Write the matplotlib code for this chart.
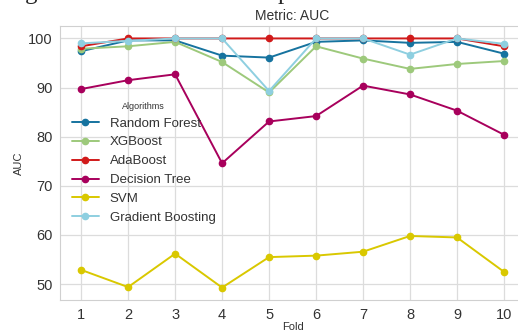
import numpy as np
import matplotlib
matplotlib.use('Agg')
import matplotlib.pyplot as plt
import seaborn as sns

folds = [1, 2, 3, 4, 5, 6, 7, 8, 9, 10]

algorithms = ['Random Forest', 'XGBoost', 'AdaBoost', 'Decision Tree', 'SVM', 'Gradient Boosting']

rf_auc = [97.4, 99.6, 99.6, 96.5, 96.1, 99.3, 99.6, 99.1, 99.3, 96.9]
xgb_auc = [97.9, 98.4, 99.3, 95.2, 89.0, 98.4, 95.9, 93.8, 94.8, 95.4]
ada_auc = [98.4, 100.0, 100.0, 100.0, 100.0, 100.0, 100.0, 100.0, 100.0, 98.4]
dt_auc = [89.7, 91.5, 92.7, 74.6, 83.1, 84.2, 90.4, 88.6, 85.3, 80.4]
svm_auc = [52.9, 49.4, 56.2, 49.3, 55.5, 55.8, 56.6, 59.8, 59.5, 52.5]
gb_auc = [99.0, 99.5, 100.0, 100.0, 89.3, 100.0, 100.0, 96.7, 100.0, 98.9]

colors = ['#16739f', '#9dc97b', '#d11a1a', '#a8005c', '#d9c800', '#8ecfe0']

sns.set_style('whitegrid')
plt.rcParams['font.family'] = ['Liberation Sans', 'DejaVu Sans']

fig = plt.figure(figsize=(5.18, 3.33), dpi=100)
ax = fig.add_axes([0.1158, 0.099, 0.898, 0.823])

series = [rf_auc, xgb_auc, ada_auc, dt_auc, svm_auc, gb_auc]
for name, vals, c in zip(algorithms, series, colors):
    ax.plot(folds, vals, marker='o', markersize=4.5, linewidth=1.4, color=c, label=name)

ax.set_xticks(folds)
ax.set_yticks([50, 60, 70, 80, 90, 100])
ax.tick_params(labelsize=10.5, colors='#333333', pad=2)
ax.grid(color='#dcdcdc', linewidth=0.9)
for s in ax.spines.values():
    s.set_color('#d0d0d0')

ax.set_title('Metric: AUC', fontsize=10, color='#333333', pad=4)
ax.set_xlabel('Fold', fontsize=8, color='#333333', labelpad=0)
ax.set_ylabel('AUC', fontsize=8, color='#333333', labelpad=3)

leg = ax.legend(title='Algorithms', fontsize=9.5, title_fontsize=6.5, frameon=False,
                loc='upper left', bbox_to_anchor=(0.005, 0.757), handlelength=2.1,
                labelspacing=0.5, borderaxespad=0.3)
for t in leg.get_texts():
    t.set_color('#333333')
leg.get_title().set_color('#333333')

# cut-off caption text above the chart
fig.text(0.048, 1.004, 'g', fontsize=18, family='Liberation Serif', ha='left', va='baseline')
fig.text(0.535, 1.004, 'p', fontsize=18, family='Liberation Serif', ha='left', va='baseline')

fig.savefig('out.png', dpi=100)
